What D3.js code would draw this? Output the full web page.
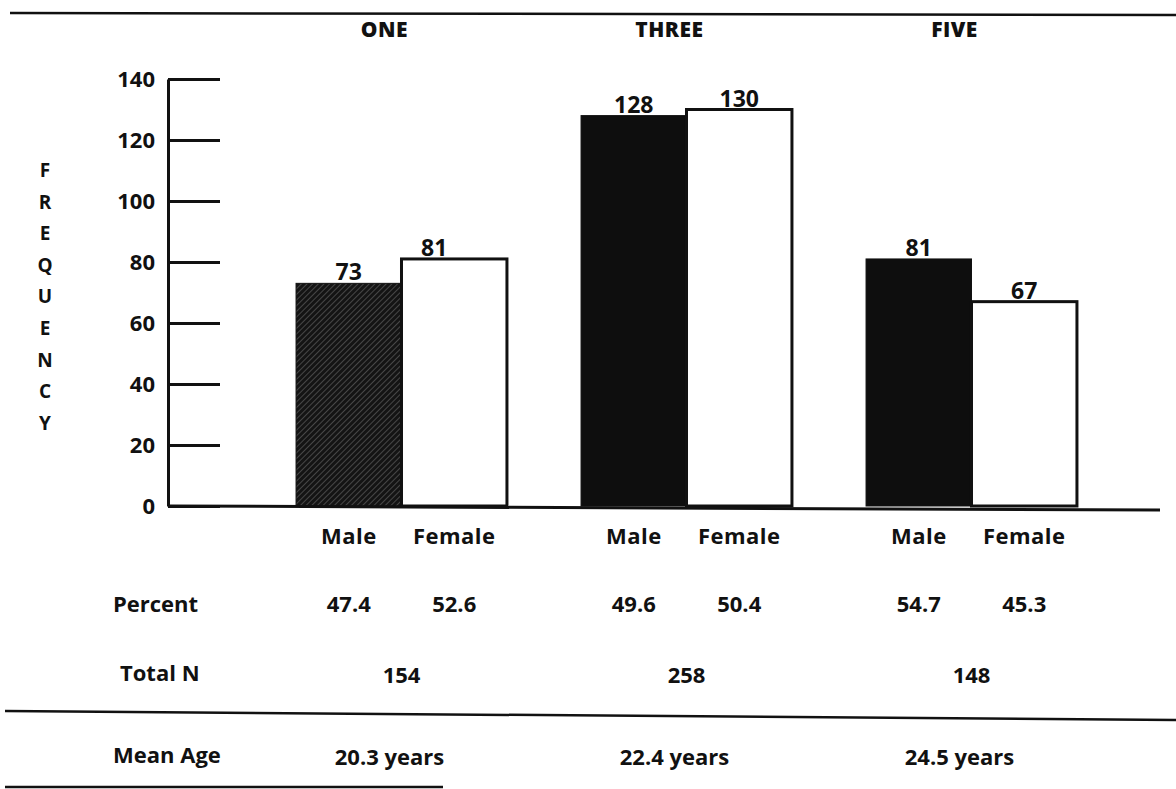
<!DOCTYPE html>
<html>
<head>
<meta charset="utf-8">
<script src="https://cdn.jsdelivr.net/npm/d3@7"></script>
<style>
  body { margin: 0; background: #fff; }
  svg { display: block; }
  text { font-family: "Open Sans", "Noto Sans", sans-serif; fill: #111; }
</style>
</head>
<body>
<script>
(function(){

//chart data
var groups = ["ONE", "THREE", "FIVE"];
var sexes = ["Male", "Female"];
var maleCounts = [73, 128, 81];
var femaleCounts = [81, 130, 67];
var malePercent = ["47.4", "49.6", "54.7"];
var femalePercent = ["52.6", "50.4", "45.3"];
var totalN = ["154", "258", "148"];
var meanAge = ["20.3 years", "22.4 years", "24.5 years"];
var yTicks = [0, 20, 40, 60, 80, 100, 120, 140];
var yLabel = "FREQUENCY";

var width = 1176,
    height = 789;

var svg = d3.select("body")
    .append("svg")
    .attr("width", width)
    .attr("height", height);

//hatch pattern for the lighter male bar
var defs = svg.append("defs");
var hatch = defs.append("pattern")
    .attr("id", "hatch")
    .attr("patternUnits", "userSpaceOnUse")
    .attr("width", 4)
    .attr("height", 4)
    .attr("patternTransform", "rotate(45)");
hatch.append("rect")
    .attr("width", 4)
    .attr("height", 4)
    .attr("fill", "#141414");
hatch.append("line")
    .attr("x1", 0).attr("y1", 0)
    .attr("x2", 0).attr("y2", 4)
    .attr("stroke", "#7a7a7a")
    .attr("stroke-width", 1);

//scales
var y = d3.scaleLinear()
    .domain([0, 140])
    .range([506, 79]);

var x0 = d3.scaleBand()
    .domain(groups)
    .range([259, 1114])
    .paddingInner(0.26)
    .paddingOuter(0.13);

var x1 = d3.scaleBand()
    .domain(sexes)
    .range([0, x0.bandwidth()]);

//build rows
var data = groups.map(function(g, i){
    return {
        group: g,
        values: [
            {sex: "Male", value: maleCounts[i], pct: malePercent[i]},
            {sex: "Female", value: femaleCounts[i], pct: femalePercent[i]}
        ],
        n: totalN[i],
        age: meanAge[i]
    };
});

//top rule
svg.append("line")
    .attr("x1", 10).attr("y1", 13)
    .attr("x2", 1176).attr("y2", 15)
    .attr("stroke", "#111").attr("stroke-width", 2.5);

//y axis, ticks pointing into the plot
var yAxis = d3.axisLeft(y)
    .tickValues(yTicks)
    .tickSizeInner(-52)
    .tickSizeOuter(0)
    .tickPadding(13);

var axisG = svg.append("g")
    .attr("transform", "translate(168,0)")
    .call(yAxis);
axisG.select(".domain")
    .attr("stroke", "#111")
    .attr("stroke-width", 3);
axisG.selectAll(".tick line")
    .attr("stroke", "#111")
    .attr("stroke-width", 3);
axisG.selectAll(".tick text")
    .attr("font-size", 22)
    .attr("font-weight", 700)
    .attr("fill", "#111")
    .style("font-family", "'Open Sans', sans-serif");

//vertical FREQUENCY label
svg.append("g")
    .selectAll("text")
    .data(yLabel.split(""))
    .enter()
    .append("text")
    .attr("x", 45)
    .attr("y", function(d, i){ return 177 + i * 31.6; })
    .attr("text-anchor", "middle")
    .attr("font-size", 19)
    .attr("font-weight", 700)
    .text(function(d){ return d; });

//bars
var groupG = svg.selectAll(".group")
    .data(data)
    .enter()
    .append("g")
    .attr("class", "group")
    .attr("transform", function(d){ return "translate(" + x0(d.group) + ",0)"; });

groupG.selectAll(".bar")
    .data(function(d){
        return d.values.map(function(v){ return {group: d.group, sex: v.sex, value: v.value}; });
    })
    .enter()
    .append("rect")
    .attr("class", "bar")
    .attr("x", function(d){ return x1(d.sex); })
    .attr("width", x1.bandwidth())
    .attr("y", function(d){ return y(d.value); })
    .attr("height", function(d){ return y(0) - y(d.value); })
    .attr("fill", function(d){
        if (d.sex == "Female") return "#fff";
        return d.group == "ONE" ? "url(#hatch)" : "#0e0e0e";
    })
    .attr("stroke", "#111")
    .attr("stroke-width", function(d){ return d.sex == "Female" ? 3 : 1; });

//value labels
groupG.selectAll(".val")
    .data(function(d){
        return d.values.map(function(v){ return {group: d.group, sex: v.sex, value: v.value}; });
    })
    .enter()
    .append("text")
    .attr("class", "val")
    .attr("x", function(d){
        var off = (d.group == "ONE" && d.sex == "Female") ? -20 : 0;
        return x1(d.sex) + x1.bandwidth() / 2 + off;
    })
    .attr("y", function(d){ return y(d.value) - 3; })
    .attr("text-anchor", "middle")
    .attr("font-size", 23)
    .attr("font-weight", 700)
    .text(function(d){ return d.value; });

//baseline
svg.append("line")
    .attr("x1", 168).attr("y1", y(0))
    .attr("x2", 1160).attr("y2", y(0) + 4)
    .attr("stroke", "#111").attr("stroke-width", 3);

//group titles
svg.selectAll(".title")
    .data(data)
    .enter()
    .append("text")
    .attr("class", "title")
    .attr("x", function(d){ return x0(d.group) + x0.bandwidth() / 2 - 17; })
    .attr("y", 37)
    .attr("text-anchor", "middle")
    .attr("font-size", 21)
    .attr("font-weight", 800)
    .attr("letter-spacing", 0.5)
    .text(function(d){ return d.group; });

//sex labels and percents under the bars
groupG.selectAll(".sex")
    .data(function(d){ return d.values; })
    .enter()
    .append("text")
    .attr("class", "sex")
    .attr("x", function(d){ return x1(d.sex) + x1.bandwidth() / 2; })
    .attr("y", 544)
    .attr("text-anchor", "middle")
    .attr("font-size", 22)
    .attr("font-weight", 700)
    .attr("letter-spacing", 0.5)
    .text(function(d){ return d.sex; });

groupG.selectAll(".pct")
    .data(function(d){ return d.values; })
    .enter()
    .append("text")
    .attr("class", "pct")
    .attr("x", function(d){ return x1(d.sex) + x1.bandwidth() / 2; })
    .attr("y", 612)
    .attr("text-anchor", "middle")
    .attr("font-size", 22)
    .attr("font-weight", 700)
    .text(function(d){ return d.pct; });

//total N
svg.selectAll(".ntot")
    .data(data)
    .enter()
    .append("text")
    .attr("class", "ntot")
    .attr("x", function(d){ return x0(d.group) + x0.bandwidth() / 2; })
    .attr("y", 683)
    .attr("text-anchor", "middle")
    .attr("font-size", 22)
    .attr("font-weight", 700)
    .text(function(d){ return d.n; });

//divider rule
svg.append("line")
    .attr("x1", 5).attr("y1", 711)
    .attr("x2", 1176).attr("y2", 720)
    .attr("stroke", "#111").attr("stroke-width", 2.5);

//mean age
svg.selectAll(".age")
    .data(data)
    .enter()
    .append("text")
    .attr("class", "age")
    .attr("x", function(d){ return x0(d.group) + x0.bandwidth() / 2 - 12; })
    .attr("y", 765)
    .attr("text-anchor", "middle")
    .attr("font-size", 22)
    .attr("font-weight", 700)
    .text(function(d){ return d.age; });

//row headings
var rowHeads = [["Percent", 612], ["Total N", 681], ["Mean Age", 763]];
svg.selectAll(".rowhead")
    .data(rowHeads)
    .enter()
    .append("text")
    .attr("class", "rowhead")
    .attr("x", function(d){ return d[0] == "Total N" ? 120 : 113; })
    .attr("y", function(d){ return d[1]; })
    .attr("font-size", 22)
    .attr("font-weight", 700)
    .text(function(d){ return d[0]; });

//bottom rule (short)
svg.append("line")
    .attr("x1", 5).attr("y1", 787)
    .attr("x2", 443).attr("y2", 787)
    .attr("stroke", "#111").attr("stroke-width", 2.5);

})();
</script>
</body>
</html>
